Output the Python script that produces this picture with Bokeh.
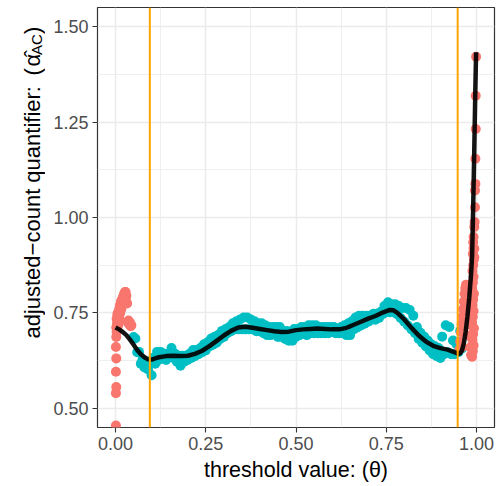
from bokeh.plotting import figure
from bokeh.layouts import row
from bokeh.models import Range1d, Label, Span, FixedTicker, NumeralTickFormatter
from bokeh.embed import file_html
from bokeh.resources import INLINE
import math

# ---- data ----
x_ticks = [0.0, 0.25, 0.5, 0.75, 1.0]
x_minor = [0.125, 0.375, 0.625, 0.875]
y_ticks = [0.5, 0.75, 1.0, 1.25, 1.5]
y_minor = [0.625, 0.875, 1.125, 1.375]

teal_theta = [
    0.050, 0.055, 0.060, 0.065, 0.070, 0.075, 0.080, 0.085, 0.090, 0.095,
    0.100, 0.105, 0.110, 0.115, 0.120, 0.125, 0.130, 0.135, 0.140, 0.145,
    0.150, 0.155, 0.160, 0.165, 0.170, 0.175, 0.180, 0.185, 0.190, 0.195,
    0.200, 0.205, 0.210, 0.215, 0.220, 0.225, 0.230, 0.235, 0.240, 0.245,
    0.250, 0.255, 0.260, 0.265, 0.270, 0.275, 0.280, 0.285, 0.290, 0.295,
    0.300, 0.305, 0.310, 0.315, 0.320, 0.325, 0.330, 0.335, 0.340, 0.345,
    0.350, 0.355, 0.360, 0.365, 0.370, 0.375, 0.380, 0.385, 0.390, 0.395,
    0.400, 0.405, 0.410, 0.415, 0.420, 0.425, 0.430, 0.435, 0.440, 0.445,
    0.450, 0.455, 0.460, 0.465, 0.470, 0.475, 0.480, 0.485, 0.490, 0.495,
    0.500, 0.505, 0.510, 0.515, 0.520, 0.525, 0.530, 0.535, 0.540, 0.545,
    0.550, 0.555, 0.560, 0.565, 0.570, 0.575, 0.580, 0.585, 0.590, 0.595,
    0.600, 0.605, 0.610, 0.615, 0.620, 0.625, 0.630, 0.635, 0.640, 0.645,
    0.650, 0.655, 0.660, 0.665, 0.670, 0.675, 0.680, 0.685, 0.690, 0.695,
    0.700, 0.705, 0.710, 0.715, 0.720, 0.725, 0.730, 0.735, 0.740, 0.745,
    0.750, 0.755, 0.760, 0.765, 0.770, 0.775, 0.780, 0.785, 0.790, 0.795,
    0.800, 0.805, 0.810, 0.815, 0.820, 0.825, 0.830, 0.835, 0.840, 0.845,
    0.850, 0.855, 0.860, 0.865, 0.870, 0.875, 0.880, 0.885, 0.890, 0.895,
    0.900, 0.905, 0.910, 0.915, 0.920, 0.925, 0.930, 0.935, 0.940, 0.945,
    0.950, 0.955, 0.960, 0.965,
]
teal_alpha = [
    0.687, 0.683, 0.647, 0.648, 0.617, 0.628, 0.607, 0.618, 0.602, 0.618,
    0.587, 0.633, 0.617, 0.648, 0.627, 0.648, 0.632, 0.643, 0.627, 0.643,
    0.637, 0.658, 0.632, 0.643, 0.622, 0.638, 0.612, 0.638, 0.622, 0.638,
    0.627, 0.643, 0.632, 0.653, 0.637, 0.653, 0.642, 0.658, 0.647, 0.668,
    0.652, 0.673, 0.662, 0.683, 0.667, 0.688, 0.672, 0.693, 0.682, 0.703,
    0.687, 0.708, 0.697, 0.713, 0.702, 0.723, 0.707, 0.728, 0.707, 0.733,
    0.707, 0.738, 0.707, 0.738, 0.707, 0.733, 0.707, 0.728, 0.702, 0.723,
    0.702, 0.723, 0.697, 0.718, 0.692, 0.713, 0.692, 0.713, 0.697, 0.713,
    0.687, 0.713, 0.687, 0.703, 0.682, 0.703, 0.677, 0.698, 0.677, 0.708,
    0.687, 0.708, 0.692, 0.713, 0.697, 0.713, 0.692, 0.718, 0.697, 0.718,
    0.697, 0.718, 0.697, 0.713, 0.697, 0.713, 0.697, 0.713, 0.697, 0.713,
    0.702, 0.713, 0.697, 0.708, 0.697, 0.713, 0.697, 0.718, 0.692, 0.723,
    0.692, 0.728, 0.707, 0.738, 0.712, 0.743, 0.717, 0.743, 0.722, 0.743,
    0.727, 0.743, 0.732, 0.748, 0.732, 0.748, 0.737, 0.753, 0.747, 0.768,
    0.752, 0.778, 0.752, 0.773, 0.752, 0.773, 0.747, 0.768, 0.737, 0.763,
    0.727, 0.763, 0.717, 0.758, 0.707, 0.743, 0.697, 0.713, 0.682, 0.698,
    0.672, 0.688, 0.662, 0.678, 0.652, 0.668, 0.642, 0.663, 0.637, 0.658,
    0.632, 0.688, 0.642, 0.718, 0.647, 0.713, 0.642, 0.678, 0.642, 0.668,
    0.647, 0.703, 0.657, 0.733,
]

salmon_theta = [
    0.001, 0.001, 0.002, 0.001, 0.002, 0.001, 0.002, 0.003, 0.002, 0.004,
    0.003, 0.005, 0.004, 0.006, 0.007, 0.006, 0.008, 0.009, 0.010, 0.011,
    0.012, 0.013, 0.014, 0.015, 0.016, 0.017, 0.018, 0.019, 0.020, 0.021,
    0.022, 0.023, 0.024, 0.025, 0.026, 0.027, 0.028, 0.029, 0.030, 0.032,
    0.034, 0.036, 0.038, 0.040, 0.042, 0.044,
    0.953, 0.955, 0.957, 0.959, 0.961, 0.963, 0.965, 0.967, 0.969, 0.971,
    0.973, 0.975, 0.977, 0.979, 0.981, 0.983, 0.985, 0.960, 0.964, 0.968,
    0.988, 0.990, 0.992, 0.989, 0.991, 0.993, 0.988, 0.990, 0.992, 0.989,
    0.991, 0.993, 0.988, 0.990, 0.992, 0.989, 0.991, 0.993, 0.990, 0.992,
    0.991, 0.992, 0.994, 0.994, 0.994, 0.995, 0.996, 0.996, 0.997, 0.997,
    0.998, 0.998, 0.999,
]
salmon_alpha = [
    0.455, 0.540, 0.556, 0.596, 0.631, 0.661, 0.687, 0.700, 0.712, 0.722,
    0.735, 0.745, 0.705, 0.715, 0.730, 0.750, 0.720, 0.745, 0.760, 0.735,
    0.770, 0.750, 0.765, 0.780, 0.760, 0.775, 0.785, 0.770, 0.790, 0.780,
    0.795, 0.785, 0.800, 0.790, 0.805, 0.795, 0.805, 0.790, 0.795, 0.775,
    0.725, 0.730, 0.720, 0.725, 0.715, 0.718,
    0.655, 0.675, 0.700, 0.720, 0.740, 0.760, 0.780, 0.800, 0.815, 0.824,
    0.810, 0.780, 0.750, 0.720, 0.690, 0.660, 0.640, 0.660, 0.700, 0.740,
    0.635, 0.650, 0.665, 0.680, 0.695, 0.710, 0.725, 0.740, 0.755, 0.770,
    0.785, 0.800, 0.815, 0.830, 0.845, 0.860, 0.875, 0.890, 0.905, 0.920,
    0.935, 0.949, 0.896, 0.918, 0.975, 0.988, 1.027, 1.071, 1.088, 1.154,
    1.232, 1.319, 1.421,
]

smooth_theta = [
    0.000, 0.010, 0.020, 0.030, 0.040, 0.050, 0.060, 0.070, 0.080, 0.090,
    0.100, 0.110, 0.120, 0.140, 0.160, 0.180, 0.200, 0.220, 0.240, 0.260,
    0.280, 0.300, 0.320, 0.340, 0.360, 0.380, 0.400, 0.420, 0.440, 0.460,
    0.480, 0.500, 0.520, 0.540, 0.560, 0.580, 0.600, 0.620, 0.640, 0.660,
    0.680, 0.700, 0.720, 0.740, 0.760, 0.770, 0.780, 0.800, 0.820, 0.840,
    0.860, 0.880, 0.900, 0.920, 0.940, 0.950, 0.955, 0.960, 0.965, 0.970,
    0.975, 0.980, 0.985, 0.988, 0.991, 0.994, 0.997, 0.999,
]
smooth_alpha = [
    0.712, 0.707, 0.700, 0.692, 0.680, 0.667, 0.653, 0.642, 0.634, 0.629,
    0.628, 0.631, 0.634, 0.637, 0.638, 0.637, 0.638, 0.643, 0.651, 0.663,
    0.677, 0.691, 0.703, 0.712, 0.714, 0.711, 0.708, 0.705, 0.702, 0.700,
    0.701, 0.705, 0.707, 0.708, 0.709, 0.708, 0.707, 0.707, 0.711, 0.719,
    0.727, 0.735, 0.742, 0.751, 0.758, 0.757, 0.751, 0.733, 0.711, 0.691,
    0.675, 0.664, 0.658, 0.654, 0.647, 0.643, 0.644, 0.652, 0.670, 0.700,
    0.740, 0.790, 0.850, 0.900, 1.030, 1.180, 1.340, 1.433,
]

vline_theta = [0.095, 0.948]

ytitle_words = "adjusted−count quantifier:"
ytitle_open = "("
ytitle_sym = "α̂"
ytitle_sub = "AC"
ytitle_close = ")"
xtitle = "threshold value: (θ)"

# ---- layout constants ----
FONT = "Liberation Sans"
H = 486
LW = 45          # width of the strip that carries the y-axis title
PW = 500 - LW    # main plot width

# ---- strip with the y-axis title (pixel coordinates, y downward) ----
t = figure(width=LW, height=H, output_backend="svg", toolbar_location=None,
           x_range=Range1d(0, LW), y_range=Range1d(H, 0),
           x_axis_type=None, y_axis_type=None,
           min_border_left=0, min_border_right=0, min_border_top=0, min_border_bottom=0)
t.outline_line_color = None
t.grid.visible = False
t.background_fill_color = "white"
t.border_fill_color = "white"

ang = math.pi / 2
BX = 31.5   # baseline of the title text
pieces = [
    (ytitle_words, BX, 237.0, "22px"),
    (ytitle_open, BX, 74.5, "22px"),
    (ytitle_sym, BX, 61.0, "22px"),
    (ytitle_sub, BX + 4.0, 43.0, "15px"),
    (ytitle_close, BX, 26.5, "22px"),
]
for txt, bx, by, fs in pieces:
    t.add_layout(Label(x=bx, y=by, text=txt, angle=ang,
                       text_align="center", text_baseline="alphabetic",
                       text_font=FONT, text_font_size=fs, text_color="black"))

# ---- main plot ----
p = figure(width=PW, height=H, output_backend="svg", toolbar_location=None,
           x_range=Range1d(-0.05, 1.05), y_range=Range1d(0.45, 1.55),
           min_border_left=97 - LW, min_border_right=6, min_border_top=7,
           min_border_bottom=59)
p.background_fill_color = "white"
p.border_fill_color = "white"
p.outline_line_color = "#333333"
p.outline_line_width = 1.2

p.xaxis.ticker = FixedTicker(ticks=x_ticks, minor_ticks=x_minor)
p.yaxis.ticker = FixedTicker(ticks=y_ticks, minor_ticks=y_minor)
p.xgrid.ticker = FixedTicker(ticks=x_ticks, minor_ticks=x_minor)
p.ygrid.ticker = FixedTicker(ticks=y_ticks, minor_ticks=y_minor)
for g in (p.xgrid, p.ygrid):
    g.grid_line_color = "#EBEBEB"
    g.grid_line_width = 1.5
    g.minor_grid_line_color = "#EBEBEB"
    g.minor_grid_line_width = 0.8

for ax in (p.xaxis, p.yaxis):
    ax.formatter = NumeralTickFormatter(format="0.00")
    ax.axis_line_color = None
    ax.major_tick_line_color = "#333333"
    ax.major_tick_line_width = 1.1
    ax.major_tick_out = 5
    ax.major_tick_in = 0
    ax.minor_tick_line_color = None
    ax.major_label_text_font = FONT
    ax.major_label_text_font_size = "18px"
    ax.major_label_text_color = "#4D4D4D"
    ax.major_label_standoff = 4

p.xaxis.axis_label = xtitle
p.xaxis.axis_label_text_font = FONT
p.xaxis.axis_label_text_font_size = "21.5px"
p.xaxis.axis_label_text_font_style = "normal"
p.xaxis.axis_label_text_color = "black"
p.xaxis.axis_label_standoff = 5

p.scatter(teal_theta, teal_alpha, size=10, color="#00BFC4", line_color=None)
p.scatter(salmon_theta, salmon_alpha, size=10, color="#F8766D", line_color=None)
p.line(smooth_theta, smooth_alpha, line_width=4.5, line_color="black", line_alpha=0.92)

for v in vline_theta:
    p.add_layout(Span(location=v, dimension="height", line_color="#FFA500", line_width=2))

layout = row(t, p, spacing=0)
open("out.html", "w").write(file_html(layout, INLINE))
